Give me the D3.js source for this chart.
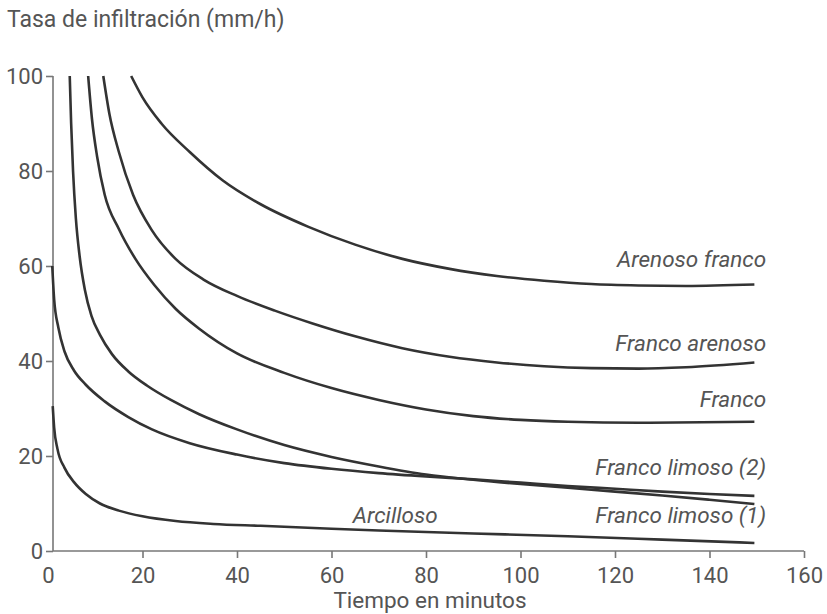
<!DOCTYPE html>
<html>
<head>
<meta charset="utf-8">
<script src="https://cdn.jsdelivr.net/npm/d3@7"></script>
<style>
  body { margin: 0; background: #fff; }
  text { font-family: Roboto, "DejaVu Sans", sans-serif; fill: #555; }
</style>
</head>
<body>
<div id="chart"></div>
<script>
// [tiempo (min), tasa (mm/h)]
var arenosoFranco = [[17.6,100],[20,95.5],[24,90],[30,84],[37,78],[45,73],[55,68.3],[65,64.5],[75,61.5],[85,59.4],[95,57.9],[105,56.9],[115,56.2],[125,55.9],[135,55.8],[149.5,56.1]];
var francoArenoso = [[11.7,100],[13,92],[15,84],[18,75],[22,67.5],[27,61.5],[33,57.1],[40,53.7],[48,50.6],[56,47.9],[65,45.2],[75,42.7],[85,40.9],[95,39.7],[105,38.9],[115,38.5],[125,38.4],[135,38.7],[149.5,39.7]];
var franco = [[8.5,100],[9.3,91],[10.4,83],[12,75],[15,67.8],[18.5,61.5],[22.5,56],[27,51],[32,46.8],[40,41.6],[50,37.5],[60,34.3],[70,31.8],[80,29.8],[90,28.4],[100,27.6],[110,27.2],[125,27],[149.5,27.2]];
var francoLimoso1 = [[4.6,100],[4.9,90],[5.3,80],[5.9,70],[6.7,62],[7.8,55],[9.2,49.5],[11,45.5],[13.5,41.5],[17,37.8],[21,34.8],[26,31.8],[32,28.8],[40,25.6],[50,22.3],[60,19.8],[70,17.8],[80,16.1],[90,15],[100,14.1],[110,13.3],[120,12.5],[130,11.7],[140,10.8],[149.5,9.9]];
var francoLimoso2 = [[0.9,60],[1.3,53],[2.2,47],[3.5,42],[5.5,38],[8,35],[12,31.5],[17,28.2],[22,25.6],[30,22.7],[40,20.3],[50,18.5],[60,17.3],[70,16.4],[80,15.7],[90,15.1],[100,14.4],[110,13.7],[120,13.1],[130,12.5],[140,12],[149.5,11.6]];
var arcilloso = [[1,30.5],[1.3,26],[2,21.5],[3.5,17.5],[5.5,14.5],[8,12],[11,10],[15,8.5],[20,7.3],[27,6.3],[35,5.7],[45,5.3],[55,4.9],[70,4.3],[90,3.7],[110,3.1],[130,2.4],[149.5,1.7]];

var series = [arenosoFranco, francoArenoso, franco, francoLimoso1, francoLimoso2, arcilloso];
var labels = ["Arenoso franco", "Franco arenoso", "Franco", "Franco limoso (2)", "Franco limoso (1)", "Arcilloso"];
var labelAt = [[152,59.8], [152,42.2], [152,30.3], [152,16], [152,5.9], [64.5,5.9]];
var xTicks = [0,20,40,60,80,100,120,140,160];
var yTicks = [0,20,40,60,80,100];

var width = 827, height = 614;

var svg = d3.select("#chart")
  .append("svg")
    .attr("width", width)
    .attr("height", height);

var x = d3.scaleLinear().domain([0, 160]).range([48, 804]);
var y = d3.scaleLinear().domain([0, 100]).range([551, 76]);

// X axis
var gx = svg.append("g")
  .attr("transform", "translate(0," + y(0) + ")")
  .call(d3.axisBottom(x).tickValues(xTicks).tickSize(7).tickPadding(9));
gx.select(".domain").remove();
gx.selectAll(".tick").filter(function(d) { return d === 0; }).select("line").remove();
gx.append("line")
  .attr("x1", 53).attr("x2", x(160))
  .attr("stroke", "#777").attr("stroke-width", 1.6);

// Y axis
var gy = svg.append("g")
  .attr("transform", "translate(53,0)")
  .call(d3.axisLeft(y).tickValues(yTicks).tickSize(7).tickPadding(3));
gy.select(".domain").remove();
gy.append("line")
  .attr("y1", y(100)).attr("y2", y(0))
  .attr("stroke", "#777").attr("stroke-width", 1.6);

svg.selectAll(".tick line").attr("stroke", "#777").attr("stroke-width", 1.6);
svg.selectAll(".tick text")
  .style("font-size", "22px")
  .attr("fill", "#555");
gy.selectAll(".tick text").attr("dy", "0.36em");

// curves
var line = d3.line()
  .x(function(d) { return x(d[0]); })
  .y(function(d) { return y(d[1]); })
  .curve(d3.curveMonotoneX);

svg.append("g")
  .selectAll("path")
  .data(series)
  .enter()
  .append("path")
    .attr("d", line)
    .attr("fill", "none")
    .attr("stroke", "#333")
    .attr("stroke-width", 2.6);

// series labels
svg.append("g")
  .selectAll("text")
  .data(labels)
  .enter()
  .append("text")
    .attr("x", function(d, i) { return x(labelAt[i][0]); })
    .attr("y", function(d, i) { return y(labelAt[i][1]); })
    .attr("text-anchor", function(d, i) { return i < 5 ? "end" : "start"; })
    .style("font-size", "22.5px")
    .style("font-style", "italic")
    .text(function(d) { return d; });

// titles
svg.append("text")
  .attr("x", 7)
  .attr("y", 27)
  .style("font-size", "23px")
  .text("Tasa de infiltración (mm/h)");

svg.append("text")
  .attr("x", 430)
  .attr("y", 608)
  .attr("text-anchor", "middle")
  .style("font-size", "22.5px")
  .text("Tiempo en minutos");
</script>
</body>
</html>
